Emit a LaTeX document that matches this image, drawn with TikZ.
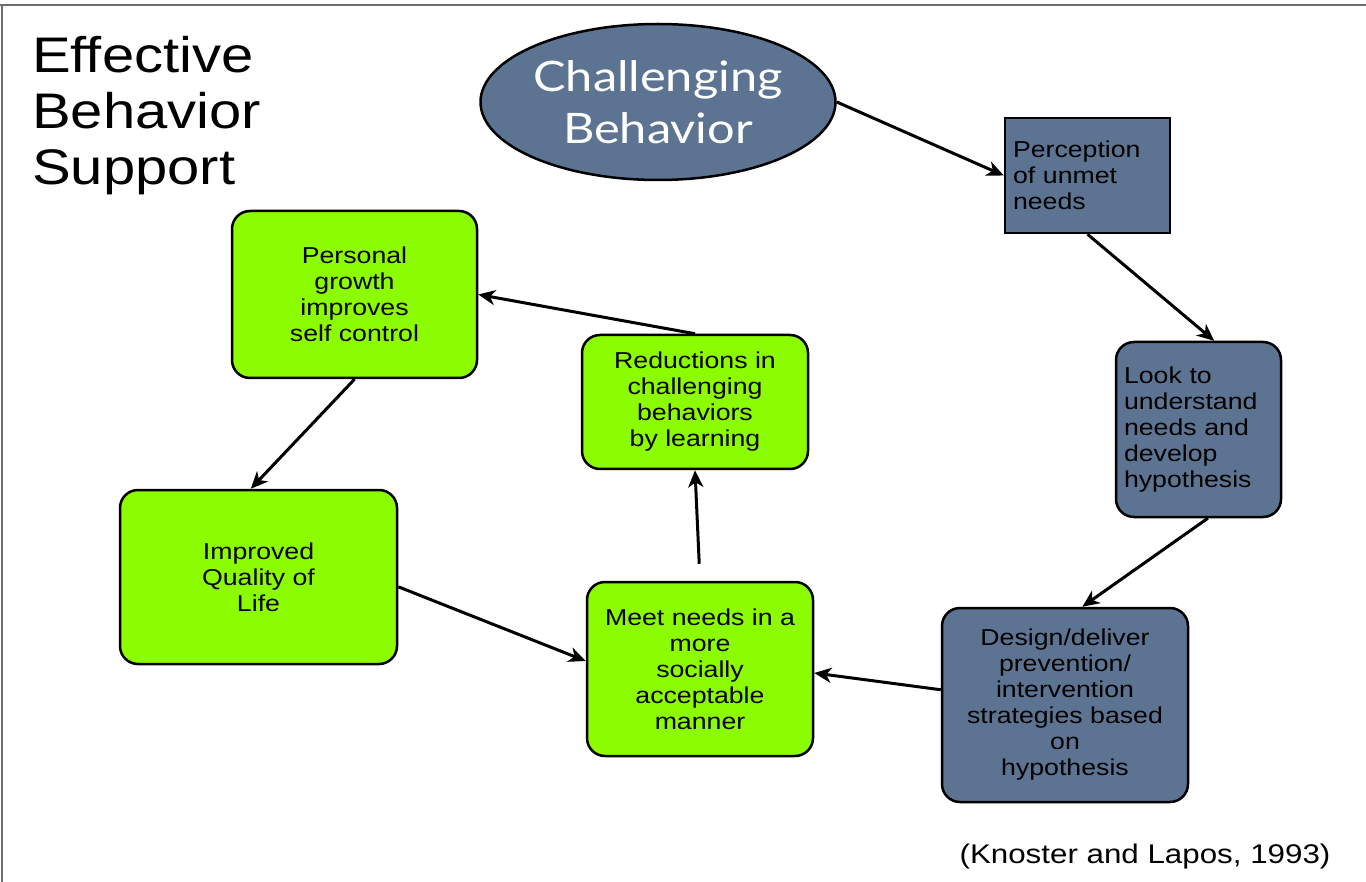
\documentclass[tikz,border=0pt]{standalone}
\usepackage{fontspec}
\setmainfont[FakeStretch=1.16]{Liberation Sans}
\newfontfamily\gillfont[FakeStretch=1.16]{Lato}
\usepackage{xcolor}
\usepackage{tikz}
\usetikzlibrary{shapes.geometric,arrows.meta}
\definecolor{slateBlue}{RGB}{92,116,145}
\definecolor{limeGreen}{RGB}{140,252,0}
\definecolor{frameGray}{RGB}{110,110,110}

\begin{document}
\begin{tikzpicture}[x = 1pt, y = -1pt,
    boxText/.style = {font = \fontsize{23}{26}\selectfont},
    blueBox/.style = {boxText, draw = black, line width = 2.5pt, fill = slateBlue, inner sep = 8pt},
    greenBox/.style = {boxText, draw = black, line width = 2.5pt, fill = limeGreen, rounded corners = 18pt, align = center, inner sep = 0pt},
    flow/.style = {-{Stealth[length = 17pt, width = 15pt, inset = 5pt]}, line width = 3pt}]
    \useasboundingbox (0,0) rectangle (1366,882);
    \draw [frameGray, line width = 2pt] (0,5) -- (1366,5);
    \draw [frameGray, line width = 2pt] (2,5) -- (2,882);

    \node[anchor = north west, inner sep = 0pt, align = left, font = \fontsize{50}{56}\selectfont](title) at (32,36) {Effective\\Behavior\\Support};
    \node[ellipse, draw = black, line width = 2.5pt, fill = slateBlue, minimum width = 355pt, minimum height = 156pt, inner sep = 0pt, align = center, text = white, font = \gillfont\fontsize{42}{52}\selectfont](challengingBehavior) at (658,102) {Challenging\\Behavior};

    \node[blueBox, text width = 149pt, minimum height = 115pt, align = left](perception) at (1087.5,175.5) {Perception\\of unmet\\needs};
    \node[blueBox, rounded corners = 18pt, text width = 149pt, minimum height = 175pt, align = left](lookUnderstand) at (1198.5,429.5) {Look to\\understand\\needs and\\develop\\hypothesis};
    \node[blueBox, rounded corners = 18pt, inner sep = 0pt, minimum width = 246pt, minimum height = 194pt, align = center](designDeliver) at (1065,705) {Design/deliver\\prevention/\\intervention\\strategies based\\on\\hypothesis};

    \node[greenBox, minimum width = 226pt, minimum height = 174pt](meetNeeds) at (700,669) {Meet needs in a\\more\\socially\\acceptable\\manner};
    \node[greenBox, minimum width = 226pt, minimum height = 134pt](reductions) at (695,402) {Reductions in\\challenging\\behaviors\\by learning};
    \node[greenBox, minimum width = 245pt, minimum height = 167pt](personalGrowth) at (354.5,294.5) {Personal\\growth\\improves\\self control};
    \node[greenBox, minimum width = 277pt, minimum height = 174pt](qualityLife) at (258.5,577) {Improved\\Quality of\\Life};

    \node[font = \fontsize{27}{32}\selectfont](citation) at (1145,857) {(Knoster and Lapos, 1993)};

    \draw [flow] (challengingBehavior.east) -- (perception.west);
    \draw [flow] (perception.south) -- (lookUnderstand.80);
    \draw [flow] (lookUnderstand.-84) -- (designDeliver.80);
    \draw [flow] (designDeliver.173) -- (meetNeeds.-2);
    \draw [flow] (qualityLife.-4) -- (meetNeeds.176);
    \draw [flow, shorten < = 17pt] (meetNeeds.north) -- (reductions.south);
    \draw [flow] (reductions.north) -- (personalGrowth.east);
    \draw [flow] (personalGrowth.south) -- (qualityLife.95);
\end{tikzpicture}
\end{document}
